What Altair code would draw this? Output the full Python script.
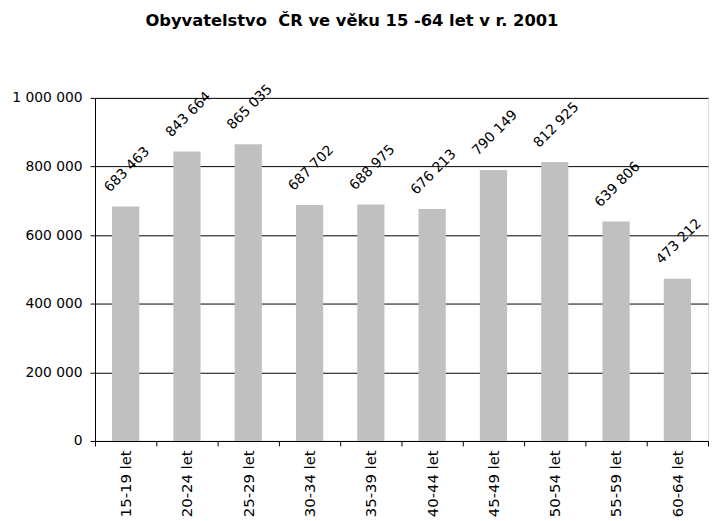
import altair as alt
import pandas as pd

categories = ["15-19 let", "20-24 let", "25-29 let", "30-34 let", "35-39 let",
              "40-44 let", "45-49 let", "50-54 let", "55-59 let", "60-64 let"]
values = [683463, 843664, 865035, 687702, 688975, 676213, 790149, 812925, 639806, 473212]
y_ticks = [0, 200000, 400000, 600000, 800000, 1000000]

df = pd.DataFrame({"vek": categories, "pocet": values})

FONT = "DejaVu Sans"

x_enc = alt.X("vek:N", sort=categories, title=None,
              scale=alt.Scale(paddingInner=0, paddingOuter=0),
              axis=alt.Axis(labelAngle=270, labelAlign="right", labelBaseline="middle",
                            labelPadding=4, tickBand="extent", ticks=True, tickSize=5,
                            tickColor="black", domainColor="black", labelColor="black",
                            labelFont=FONT, labelFontSize=15, grid=False))
y_enc = alt.Y("pocet:Q", title=None,
              scale=alt.Scale(domain=[0, 1000000], nice=False),
              axis=alt.Axis(values=y_ticks, format=",d", tickSize=5, tickColor="black",
                            domainColor="black", gridColor="black", gridOpacity=1,
                            labelColor="black", labelFont=FONT, labelFontSize=14,
                            labelPadding=8, grid=True))

bars = alt.Chart(df).mark_bar(color="#c0c0c0", width=alt.RelativeBandSize(0.444)).encode(
    x=x_enc, y=y_enc)

labels = alt.Chart(df).mark_text(angle=315, align="left", baseline="alphabetic",
                                 xOffset=-16, yOffset=-14, font=FONT, fontSize=14,
                                 color="black").encode(
    x=alt.X("vek:N", sort=categories),
    y=alt.Y("pocet:Q"),
    text=alt.Text("pocet:Q", format=",d"))

chart = alt.layer(bars, labels).properties(
    width=620, height=347,
    title=alt.TitleParams("Obyvatelstvo\u00a0 ČR ve věku 15 -64 let v r. 2001",
                          anchor="start", frame="group", dx=51, offset=40,
                          baseline="alphabetic",
                          font=FONT, fontSize=16.5, fontWeight="bold", color="black"),
    autosize=alt.AutoSizeParams(type="none"),
    padding={"left": 88, "top": 88, "right": 1, "bottom": 78},
).configure_view(stroke=None).configure(
    locale={"number": {"decimal": ",", "thousands": " ", "grouping": [3],
                       "currency": ["", " Kč"]}}
)

chart.save("out.html", embed_options={"renderer": "svg", "actions": False})
